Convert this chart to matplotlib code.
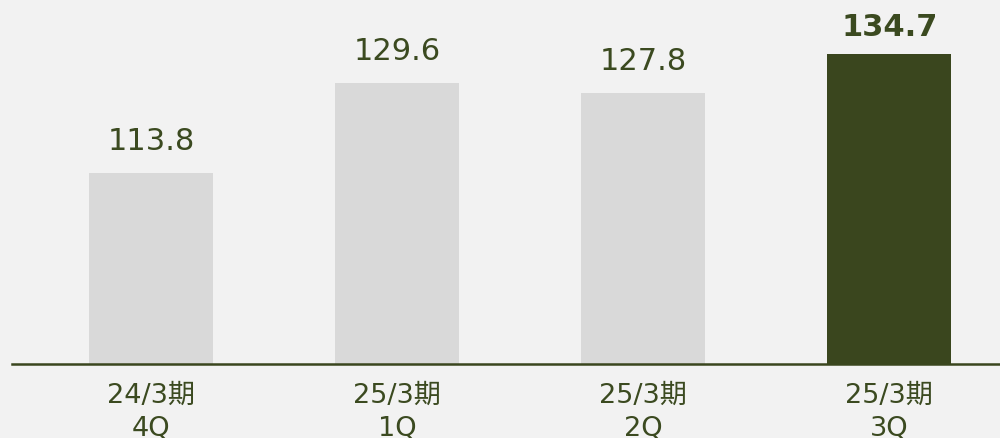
import matplotlib
matplotlib.use("Agg")
import matplotlib.pyplot as plt

plt.rcParams['font.family'] = ['DejaVu Sans', 'Noto Sans CJK JP']

categories = ["24/3期\n4Q", "25/3期\n1Q", "25/3期\n2Q", "25/3期\n3Q"]
values = [113.8, 129.6, 127.8, 134.7]
highlight = [False, False, False, True]

BG = "#f2f2f2"
GREY = "#d9d9d9"
DARK = "#3a461e"
TXT = "#3b4a20"

fig = plt.figure(figsize=(10, 4.39), dpi=100, facecolor=BG)
ax = fig.add_axes([0.012, 74 / 439, 0.988, 365 / 439])
ax.set_facecolor(BG)

x = list(range(len(values)))
colors = [DARK if h else GREY for h in highlight]
bars = ax.bar(x, values, width=0.504, color=colors, zorder=2)

ax.set_xlim(-0.565, 3.45)
ax.set_ylim(80.3, 144.3)

for xi, v, h in zip(x, values, highlight):
    ax.annotate(f"{v:.1f}", (xi, v), xytext=(0, 13.7 if h else 17.3),
                textcoords="offset points",
                ha="center", va="baseline", fontsize=22,
                fontweight="bold" if h else "normal", color=TXT)

ax.set_xticks(x)
ax.set_xticklabels(categories, fontsize=19.5, color=TXT, linespacing=1.4)
ax.tick_params(axis="x", length=0, pad=12.5)
ax.set_yticks([])
for s in ["top", "right", "left"]:
    ax.spines[s].set_visible(False)
ax.spines["bottom"].set_color(DARK)
ax.spines["bottom"].set_linewidth(1.8)
ax.spines["bottom"].set_zorder(3)

fig.savefig("out.png", dpi=100, facecolor=BG)
